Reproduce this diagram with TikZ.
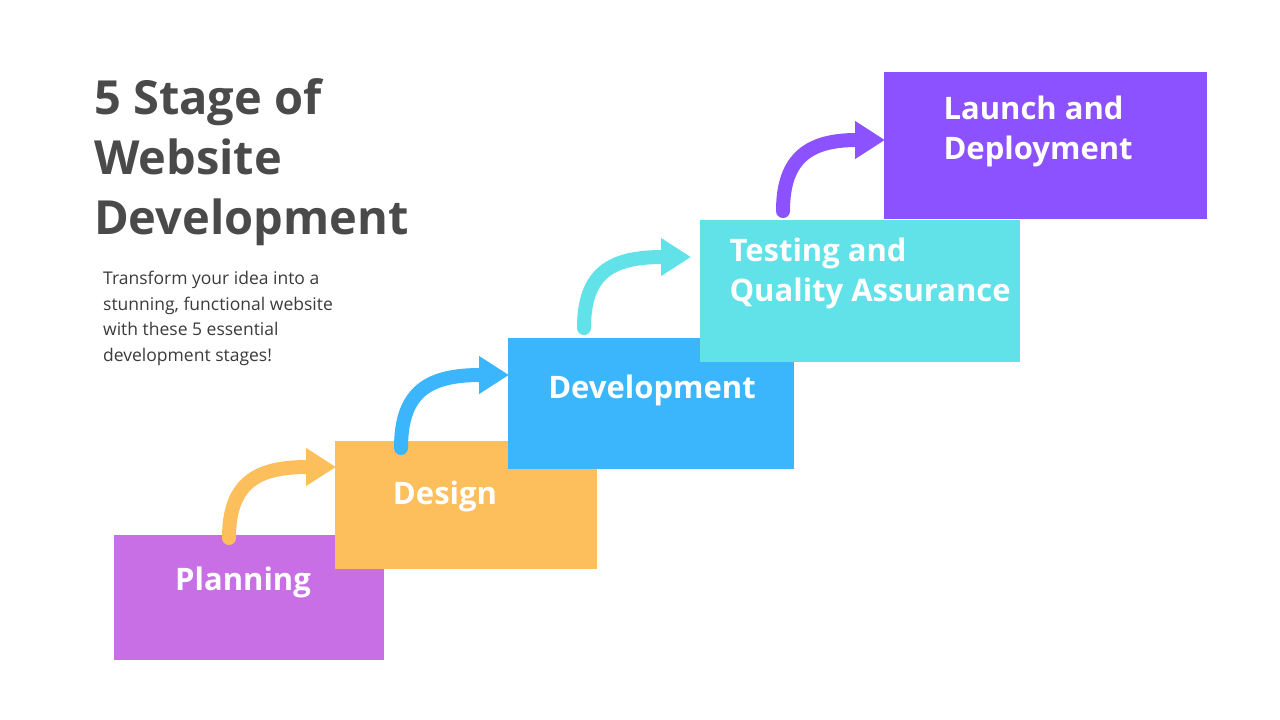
\documentclass[tikz,border=0pt]{standalone}
\usepackage{fontspec}
\setmainfont{Open Sans}
\usetikzlibrary{arrows.meta}
\definecolor{cplan}{HTML}{C86FE6}
\definecolor{cdes}{HTML}{FDBE5C}
\definecolor{cdev}{HTML}{3BB5FC}
\definecolor{ctest}{HTML}{60E2E8}
\definecolor{claun}{HTML}{8C52FF}
\definecolor{ctitle}{HTML}{4A4A4A}
\begin{document}
\begin{tikzpicture}[x=1pt,y=-1pt,
  box/.style={draw=none,fill=#1},
  lbl/.style={text=white,font=\fontsize{31}{40}\selectfont\bfseries},
  step/.style={draw=#1,line width=14pt,line cap=round,-{Triangle[length=30pt,width=36pt]}}]
\useasboundingbox[fill=white] (0,0) rectangle (1280,720);
\fill[cplan] (114,535) rectangle (384,660);
\fill[cdes] (335,441) rectangle (597,569);
\fill[cdev] (508,338) rectangle (794,469);
\fill[ctest] (700,220) rectangle (1020,362);
\fill[claun] (884,72) rectangle (1207,219);
\node[lbl] (planning) at (243,582) {Planning};
\node[lbl] (design) at (445,496) {Design};
\node[lbl] (dev) at (652,390) {Development};
\node[lbl,anchor=west,align=left] (test) at (726,273) {Testing and\\Quality Assurance};
\node[lbl,anchor=west,align=left] (launch) at (940,131) {Launch and\\Deployment};
\coordinate (a1) at (229,538); \coordinate (b1) at (336,467);
\coordinate (a2) at (401,448); \coordinate (b2) at (509,375);
\coordinate (a3) at (584,328); \coordinate (b3) at (691,257);
\coordinate (a4) at (783,211); \coordinate (b4) at (885,140);
\draw[step=cdes] (a1) .. controls (229,480) and (260,467) .. (b1);
\draw[step=cdev] (a2) .. controls (401,390) and (430,375) .. (b2);
\draw[step=ctest] (a3) .. controls (584,272) and (612,257) .. (b3);
\draw[step=claun] (a4) .. controls (783,157) and (810,140) .. (b4);
\node[anchor=north west,align=left,text=ctitle,font=\fontsize{47}{60}\selectfont\bfseries,inner sep=0] (title) at (94,78) {5 Stage of\\Website\\Development};
\node[anchor=north west,align=left,text=ctitle!80!black,font=\fontsize{17.5}{25.5}\selectfont,inner sep=0] (sub) at (103,271) {Transform your idea into a\\stunning, functional website\\with these 5 essential\\development stages!};
\end{tikzpicture}
\end{document}
